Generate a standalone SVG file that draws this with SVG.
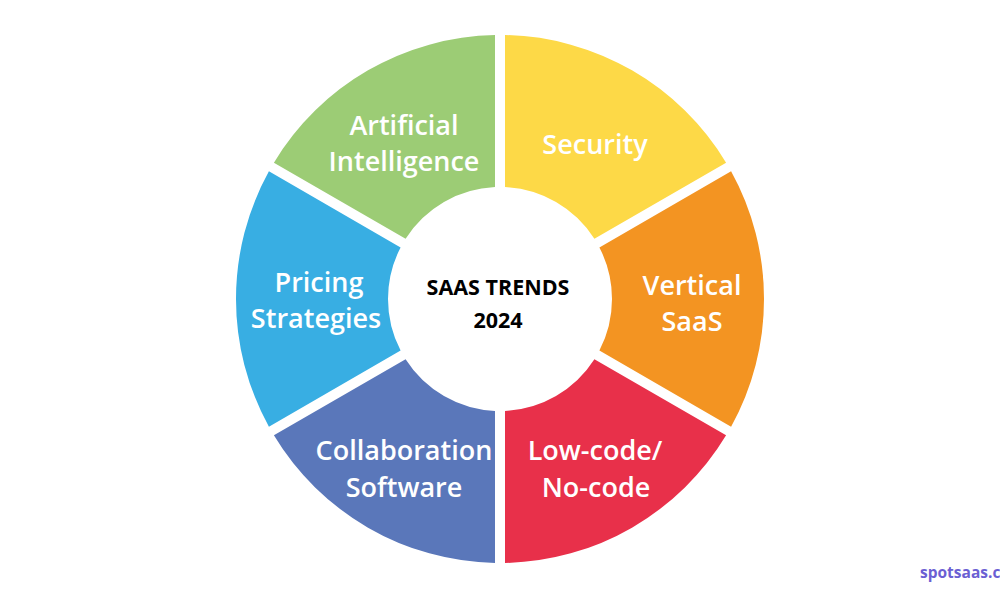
<svg xmlns="http://www.w3.org/2000/svg" width="1000" height="600" viewBox="0 0 1000 600">
<style>
.lbl{font-family:"Open Sans","Liberation Sans",sans-serif;font-weight:600;font-size:27px;fill:#ffffff;text-anchor:middle}
.ctr{font-family:"Open Sans","Liberation Sans",sans-serif;font-weight:700;font-size:21.5px;fill:#000000;text-anchor:middle}
.wm{font-family:"Open Sans","Liberation Sans",sans-serif;font-weight:700;font-size:15.5px;fill:#6B5FD3}
</style>
<rect width="1000" height="600" fill="#ffffff"/>
<g id="security">
<path d="M505,35.05 A264,264 0 0 1 726.09,162.69 L594.40,238.72 A112,112 0 0 0 505,187.11 Z" fill="#FDD947"/>
<text class="lbl" x="595" y="154">Security</text>
</g>
<g id="vertical-saas">
<path d="M731.09,171.35 A264,264 0 0 1 731.09,426.65 L599.40,350.61 A112,112 0 0 0 599.40,247.39 Z" fill="#F39422"/>
<text class="lbl" x="692" y="295">Vertical</text>
<text class="lbl" x="692" y="331">SaaS</text>
</g>
<g id="low-code">
<path d="M726.09,435.31 A264,264 0 0 1 505,562.95 L505,410.89 A112,112 0 0 0 594.40,359.28 Z" fill="#E8304A"/>
<text class="lbl" x="595" y="460">Low-code/</text>
<text class="lbl" x="596" y="497">No-code</text>
</g>
<g id="collaboration">
<path d="M495,562.95 A264,264 0 0 1 273.91,435.31 L405.60,359.28 A112,112 0 0 0 495,410.89 Z" fill="#5A77BA"/>
<text class="lbl" x="404" y="460">Collaboration</text>
<text class="lbl" x="404" y="497">Software</text>
</g>
<g id="pricing">
<path d="M268.91,426.65 A264,264 0 0 1 268.91,171.35 L400.60,247.39 A112,112 0 0 0 400.60,350.61 Z" fill="#38AEE3"/>
<text class="lbl" x="319" y="292">Pricing</text>
<text class="lbl" x="316" y="328">Strategies</text>
</g>
<g id="ai">
<path d="M273.91,162.69 A264,264 0 0 1 495,35.05 L495,187.11 A112,112 0 0 0 405.60,238.72 Z" fill="#9CCC75"/>
<text class="lbl" x="404" y="135">Artificial</text>
<text class="lbl" x="404" y="171">Intelligence</text>
</g>
<g id="center">
<text class="ctr" x="498" y="295">SAAS TRENDS</text>
<text class="ctr" x="498" y="328">2024</text>
</g>
<g id="connectors"></g>
<text class="wm" x="920" y="578">spotsaas.c</text>
</svg>
